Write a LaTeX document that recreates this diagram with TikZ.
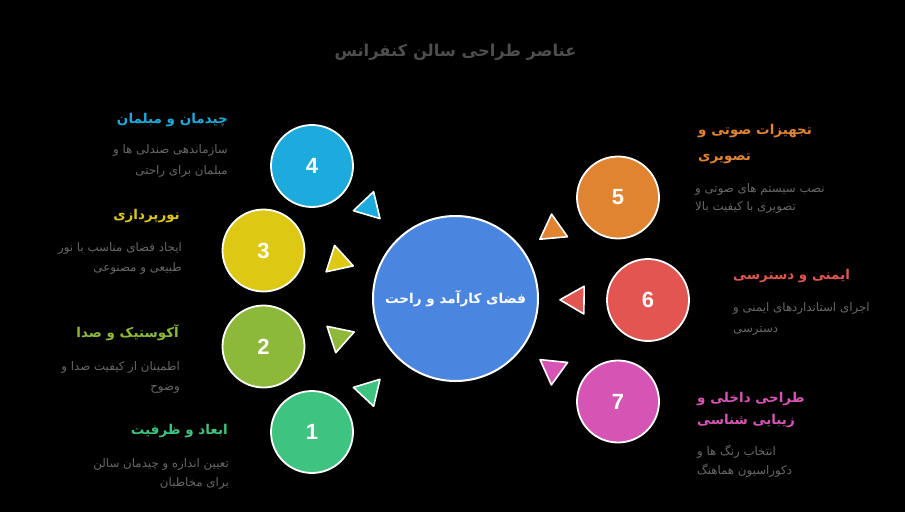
\documentclass[tikz,border=0pt]{standalone}
\usepackage{fontspec}
\usetikzlibrary{calc}
\TeXXeTstate=1
\newfontfamily\arabicfont[Script=Arabic]{DejaVu Sans}
\newfontfamily\numfont{Liberation Sans}
\newcommand{\ar}[1]{\beginR #1\endR}
\definecolor{ccenter}{HTML}{4A86E0}
\definecolor{cone}{HTML}{3EC480}
\definecolor{ctwo}{HTML}{8DB93A}
\definecolor{cthree}{HTML}{DDC814}
\definecolor{cfour}{HTML}{1DAADC}
\definecolor{cfive}{HTML}{E08432}
\definecolor{csix}{HTML}{E25550}
\definecolor{cseven}{HTML}{D655B4}
\definecolor{descgray}{HTML}{686868}
\definecolor{titlegray}{HTML}{4E4E4E}
\begin{document}
\begin{tikzpicture}[x=1pt,y=-1pt,
  bigc/.style={circle, draw=white, line width=2pt, fill=ccenter, minimum size=165pt, inner sep=0pt,
    text=white, font=\arabicfont\bfseries\fontsize{13.6}{15}\selectfont},
  smallc/.style={circle, draw=white, line width=1.8pt, minimum size=82pt, inner sep=0pt,
    text=white, font=\numfont\bfseries\fontsize{22}{22}\selectfont},
  tri/.style={draw=white, line width=1.6pt, line join=round},
  head/.style={inner sep=0pt, text height=10pt, text depth=4pt,
    font=\arabicfont\bfseries\fontsize{13.5}{15}\selectfont},
  desc/.style={inner sep=0pt, text height=9pt, text depth=3pt, text=descgray,
    font=\arabicfont\fontsize{11.8}{13}\selectfont},
]
\fill[black] (0,0) rectangle (905,512);
\useasboundingbox (0,0) rectangle (905,512);

\node[inner sep=0pt, text=titlegray, font=\arabicfont\bfseries\fontsize{16.3}{19}\selectfont] (title) at (455.5,52) {\ar{عناصر طراحی سالن کنفرانس}};

\node[bigc] (c0) at (455.5,298.5) {\ar{فضای کارآمد و راحت}};

\node[smallc, fill=cone]   (c1) at (312,432) {1};
\node[smallc, fill=ctwo]   (c2) at (263.5,346.5) {2};
\node[smallc, fill=cthree] (c3) at (263.5,250.5) {3};
\node[smallc, fill=cfour]  (c4) at (312,166) {4};
\node[smallc, fill=cfive]  (c5) at (618,197.5) {5};
\node[smallc, fill=csix]   (c6) at (648,300) {6};
\node[smallc, fill=cseven] (c7) at (618,401.5) {7};

\coordinate (t1) at (369,391);
\coordinate (t2) at (339,337);
\coordinate (t3) at (338,261);
\coordinate (t4) at (369,207);
\coordinate (t5) at (553,230);
\coordinate (t6) at (576,300);
\coordinate (t7) at (553,369);
\foreach \t/\col in {t1/cone,t2/ctwo,t3/cthree,t4/cfour,t5/cfive,t6/csix,t7/cseven}{
  \draw[tri, fill=\col] ($(\t)!16pt!(c0.center)$) -- ($(\t)!16pt!120:(c0.center)$) -- ($(\t)!16pt!-120:(c0.center)$) -- cycle;
}

% left labels
\node[head, text=cfour, anchor=east] (h4) at (228,120) {\ar{چیدمان و مبلمان}};
\node[desc, anchor=east] (d4a) at (228,150) {\ar{سازماندهی صندلی ها و}};
\node[desc, anchor=east] (d4b) at (228,171) {\ar{مبلمان برای راحتی}};

\node[head, text=cthree, anchor=east] (h3) at (180,216) {\ar{نورپردازی}};
\node[desc, anchor=east] (d3a) at (182,248) {\ar{ایجاد فضای مناسب با نور}};
\node[desc, anchor=east] (d3b) at (182,268) {\ar{طبیعی و مصنوعی}};

\node[head, text=ctwo, anchor=east] (h2) at (179,334) {\ar{آکوستیک و صدا}};
\node[desc, anchor=east] (d2a) at (180,367) {\ar{اطمینان از کیفیت صدا و}};
\node[desc, anchor=east] (d2b) at (180,387) {\ar{وضوح}};

\node[head, text=cone, anchor=east] (h1) at (228,431) {\ar{ابعاد و ظرفیت}};
\node[desc, anchor=east] (d1a) at (229,464) {\ar{تعیین اندازه و چیدمان سالن}};
\node[desc, anchor=east] (d1b) at (229,483) {\ar{برای مخاطبان}};

% right labels
\node[head, text=cfive, anchor=west] (h5a) at (698,131) {\ar{تجهیزات صوتی و}};
\node[head, text=cfive, anchor=west] (h5b) at (698,157) {\ar{تصویری}};
\node[desc, anchor=west] (d5a) at (695,189) {\ar{نصب سیستم های صوتی و}};
\node[desc, anchor=west] (d5b) at (695,207) {\ar{تصویری با کیفیت بالا}};

\node[head, text=csix, anchor=west] (h6) at (733,276) {\ar{ایمنی و دسترسی}};
\node[desc, anchor=west] (d6a) at (733,308) {\ar{اجرای استانداردهای ایمنی و}};
\node[desc, anchor=west] (d6b) at (733,329) {\ar{دسترسی}};

\node[head, text=cseven, anchor=west] (h7a) at (697,399) {\ar{طراحی داخلی و}};
\node[head, text=cseven, anchor=west] (h7b) at (697,421) {\ar{زیبایی شناسی}};
\node[desc, anchor=west] (d7a) at (697,452) {\ar{انتخاب رنگ ها و}};
\node[desc, anchor=west] (d7b) at (697,471) {\ar{دکوراسیون هماهنگ}};
\end{tikzpicture}
\end{document}
